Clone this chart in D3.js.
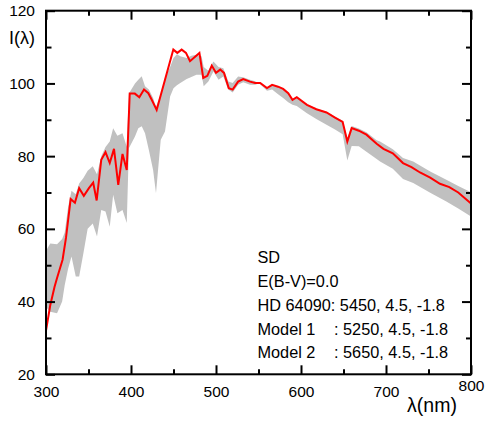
<!DOCTYPE html>
<html>
<head>
<meta charset="utf-8">
<script src="https://cdn.jsdelivr.net/npm/d3@7"></script>
<style>
  body { margin:0; background:#fff; }
  text { font-family: "Liberation Sans", Arial, Helvetica, sans-serif; fill:#000; }
</style>
</head>
<body>
<div id="chart-area"></div>
<script>
// observed spectrum (SD, HD 64090)
var lambdaObs = [300,305,310,313,319.5,323.5,329,334,339,344.5,350.5,355.5,359.6,365,370,375,380,385,390,395,
  398.5,404.5,409.8,415.3,420.4,424.4,430.2,440,449.8,454.5,459.6,464.7,469.4,480.5,485,489.8,495,500,505,509.4,
  515,519.6,526,532,540,546,552,560,566,573,579,585,590,595,607,618,630,640,649,654.5,659.6,668,677,689,697,
  708,720,730,740,752,763.5,774.5,785,800];
var intensObs = [32,39,44,46.5,51.5,57.5,68.2,67.2,71.2,69.1,71.2,72.7,67.8,79.0,81.1,78.1,82.0,72.1,80.6,76.2,
  97.2,97.2,96.2,98.3,97.3,95.5,92.7,101,109.3,108.4,109.3,108.4,106.1,108.4,101.5,102.1,104.9,102.9,103.8,102.9,
  98.7,98.3,100.5,101.2,100.5,100.1,100.1,98.7,99.6,99.1,98.5,97.3,95.5,96.2,94.1,92.9,92.0,90.6,89.4,84.0,87.7,87.0,85.9,83.4,82.0,
  80.8,78.1,77.0,75.5,74.1,72.4,71.5,70.0,67.0];

// model spectra (grey band between them)
var lambdaModel = [300,305,313,319,322,326,330,335,339,344,349,355,360,365,370,375,379,384,390,395,
  397.5,404.7,408.6,412.6,416.5,421,426,429.4,435,440,446,450,454,458,465.5,471,477,483,485.5,491,497,503,508.6,
  514.5,519.6,526,532,540,546,552,560,566,573,579,585,590,595,607,618,630,640,649,654.5,659.6,668,677,689,693,
  708,720,732,752,771,785,800];
var model1 = [38.5,37.2,36.8,40,44.5,49,52.4,46.9,46.9,53.3,60,61.5,57.9,65.2,64.8,60.6,69.4,64.3,65.2,61.6,
  82.2,85.4,87.7,88.2,86.3,81.7,76.2,69.8,84.5,86.8,96.4,98.7,99.5,100.1,101.2,101.8,102.4,102.4,99.2,100.5,103.3,101,101.9,
  98.3,97.5,99.6,100.3,99.6,99.6,100.1,98.9,99.7,99.2,98.6,97.4,95.7,96.3,94.3,93.1,92.2,90.8,89.7,85,88.3,87.6,86.6,84.4,84,
  81.9,79.5,78.5,75.8,73.5,71.8,70.1];
var model2 = [54,56,55.8,57.2,59,66,70.5,69.5,72.5,74,76,77.2,75,80,82.5,84,87.7,85.6,86.3,82.6,
  97.2,100,101,102,99.2,98.3,96,93.5,97,101.5,104.5,107,108,107.5,107,107.6,107.9,107.5,104.5,103.5,106,104.5,104.2,
  100.5,100.1,101.9,101.7,101,100.6,99.8,98,98.3,97,96,94.8,94.1,93.8,91.8,90.2,88.6,87.3,86,78.8,82.8,82.7,81.2,79.2,78.5,
  76.5,73.7,72.6,69.9,67.5,65.6,63.4];

var xTicks = [300,350,400,450,500,550,600,650,700,750,800];
var yTicks = [20,30,40,50,60,70,80,90,100,110,120];
var legendLines = [["SD",""],["E(B-V)=0.0",""],["HD 64090: 5450, 4.5, -1.8",""],
  ["Model 1",": 5250, 4.5, -1.8"],["Model 2",": 5650, 4.5, -1.8"]];

var W = 491, H = 421;
var margin = { left:46, top:10.7, right:20, bottom:46.7 };
var width = W - margin.left - margin.right;
var height = H - margin.top - margin.bottom;

var svg = d3.select("#chart-area").append("svg")
  .attr("width", W)
  .attr("height", H);

var g = svg.append("g")
  .attr("transform", "translate(" + margin.left + "," + margin.top + ")");

var x = d3.scaleLinear().domain([300,800]).range([0,width]);
var y = d3.scaleLinear().domain([20,120]).range([height,0]);

// grey band
var modelRows = lambdaModel.map(function(l,i){ return {l:l, a:model1[i], b:model2[i]}; });
g.append("path")
  .datum(modelRows)
  .attr("fill", "#c0c0c0")
  .attr("d", d3.area()
    .x(function(d){ return x(d.l); })
    .y0(function(d){ return y(d.a); })
    .y1(function(d){ return y(d.b); }));

// observed line
var obsRows = lambdaObs.map(function(l,i){ return {l:l, v:intensObs[i]}; });
g.append("path")
  .datum(obsRows)
  .attr("fill", "none")
  .attr("stroke", "#ff0000")
  .attr("stroke-width", 2)
  .attr("stroke-linejoin", "miter")
  .attr("d", d3.line()
    .x(function(d){ return x(d.l); })
    .y(function(d){ return y(d.v); }));

// axes, ticks inward on all four sides
function isMajorX(d){ return d % 100 === 0; }
function isMajorY(d){ return d % 20 === 0; }

var xB = g.append("g").attr("transform", "translate(0," + height + ")")
  .call(d3.axisBottom(x).tickValues(xTicks).tickSize(0)
    .tickFormat(function(d){ return isMajorX(d) ? d : ""; }));
xB.selectAll(".tick line").attr("y2", function(d){ return isMajorX(d) ? -9 : -5; });
xB.selectAll(".tick text").attr("dy", 0)
  .attr("y", function(d){ return d === 800 ? 17 : 23; });

var xT = g.append("g")
  .call(d3.axisTop(x).tickValues(xTicks).tickSize(0).tickFormat(""));
xT.selectAll(".tick line").attr("y2", function(d){ return isMajorX(d) ? 9 : 5; });

var yL = g.append("g")
  .call(d3.axisLeft(y).tickValues(yTicks).tickSize(0)
    .tickFormat(function(d){ return isMajorY(d) ? d : ""; }));
yL.selectAll(".tick line").attr("x2", function(d){ return isMajorY(d) ? 9 : 5.5; });
yL.selectAll(".tick text").attr("x", -11);

var yR = g.append("g").attr("transform", "translate(" + width + ",0)")
  .call(d3.axisRight(y).tickValues(yTicks).tickSize(0).tickFormat(""));
yR.selectAll(".tick line").attr("x2", function(d){ return isMajorY(d) ? -9 : -5; });

g.selectAll(".domain").remove();
g.selectAll(".tick line").attr("stroke", "#000").attr("stroke-width", 2);
g.selectAll(".tick text").attr("font-size", "15.5px").attr("fill", "#000")
  .attr("font-family", "Liberation Sans, Arial, sans-serif");

g.append("rect")
  .attr("width", width)
  .attr("height", height)
  .attr("fill", "none")
  .attr("stroke", "#000")
  .attr("stroke-width", 2);

// axis titles
svg.append("text")
  .attr("x", 9).attr("y", 43.5)
  .attr("font-size", "18px")
  .text("I(λ)");

svg.append("text")
  .attr("x", 432).attr("y", 412)
  .attr("font-size", "19.5px")
  .attr("text-anchor", "middle")
  .text("λ(nm)");

// text block
var tx = 257.5, ty = 263.3, lh = 23.75;
legendLines.forEach(function(l, i){
  svg.append("text").attr("x", tx).attr("y", ty + i*lh)
    .attr("font-size", "16.3px").text(l[0]);
  if (l[1]) svg.append("text").attr("x", tx + 76.5).attr("y", ty + i*lh)
    .attr("font-size", "16.3px").text(l[1]);
});
</script>
</body>
</html>
